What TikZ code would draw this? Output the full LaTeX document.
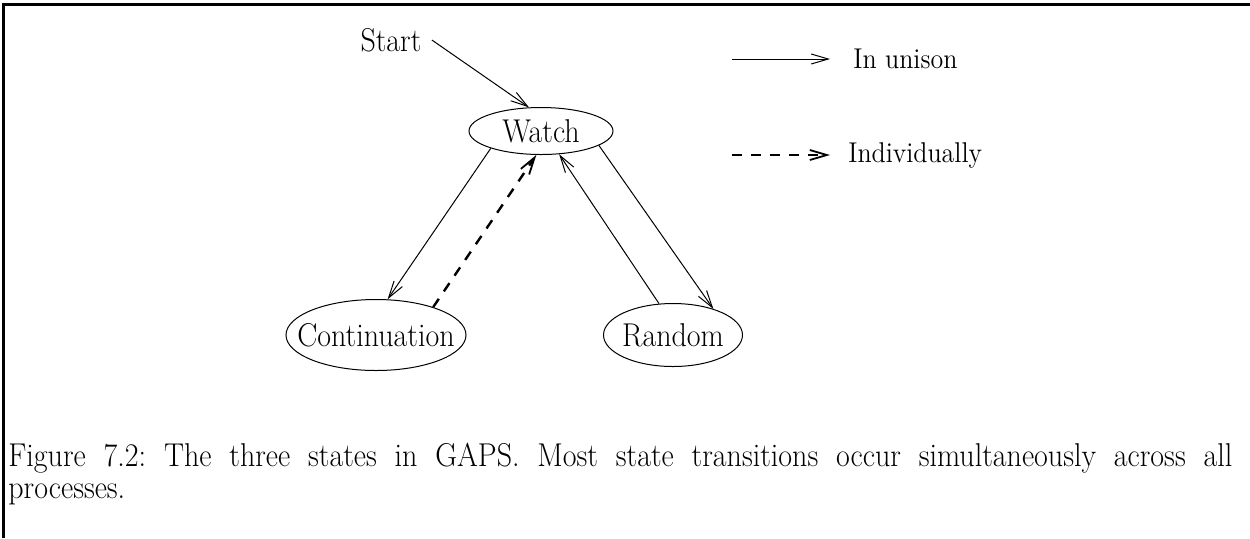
\documentclass[tikz,border=0pt]{standalone}
\usepackage{graphicx}
\usetikzlibrary{shapes.geometric,arrows.meta}
\newcommand{\tallt}[1]{\scalebox{1}[1.1]{#1}}
\begin{document}
\begin{tikzpicture}[x=0.5pt,y=-0.5pt,
  state/.style={ellipse,draw,line width=0.5pt,inner sep=0pt},
  lbl/.style={font=\fontsize{15}{18}\selectfont,inner sep=0pt},
  leg/.style={font=\fontsize{13}{16}\selectfont,inner sep=0pt},
  uni/.style={line width=0.5pt,-{Straight Barb[length=8.5pt,width=5pt]}},
  ind/.style={line width=1.2pt,dash pattern=on 5pt off 4.5pt,-{Straight Barb[length=8.5pt,width=5pt,line width=0.9pt]}},
  frame/.style={line width=1.5pt}]
\useasboundingbox (0,0) rectangle (1250,538);
% frame
\coordinate (fa) at (3,538);
\coordinate (fb) at (3,4);
\coordinate (fc) at (1250,4);
\draw[frame] (fa) -- (fb) -- (fc);
% states
\node[state,minimum width=72pt,minimum height=23.5pt,label={[lbl]center:\tallt{Watch}}] (w) at (541,131) {};
\node[state,minimum width=90pt,minimum height=35.5pt,label={[lbl]center:\tallt{Continuation}}] (c) at (376,335) {};
\node[state,minimum width=69.5pt,minimum height=31.5pt,label={[lbl]center:\tallt{Random}}] (r) at (673,335) {};
\node[lbl,inner sep=5pt] (s) at (391,40) {\tallt{Start}};
% transitions
\draw[uni] (s.east) -- (w.117);
\draw[uni] (w.199) -- (c.72);
\draw[ind] (c.26) -- (w.259);
\draw[uni] (r.114) -- (w.308);
\draw[uni] (w.346) -- (r.33);
% legend
\coordinate (u1) at (732,59);
\coordinate (u2) at (830,59);
\draw[uni] (u1) -- (u2);
\node[leg,anchor=west] (tu) at (853,59) {\tallt{In unison}};
\coordinate (i1) at (732,155);
\coordinate (i2) at (830,155);
\draw[ind] (i1) -- (i2);
\node[leg,anchor=west] (ti) at (848,155) {\tallt{Individually}};
% caption
\node[anchor=base west,inner sep=0pt] (cap) at (8,466) {\scalebox{1}[1.1]{\parbox[t]{612pt}{\fontsize{15}{14.6}\selectfont\frenchspacing\noindent Figure 7.2: The three states in GAPS. Most state transitions occur simultaneously across all\linebreak processes.}}};
\end{tikzpicture}
\end{document}
